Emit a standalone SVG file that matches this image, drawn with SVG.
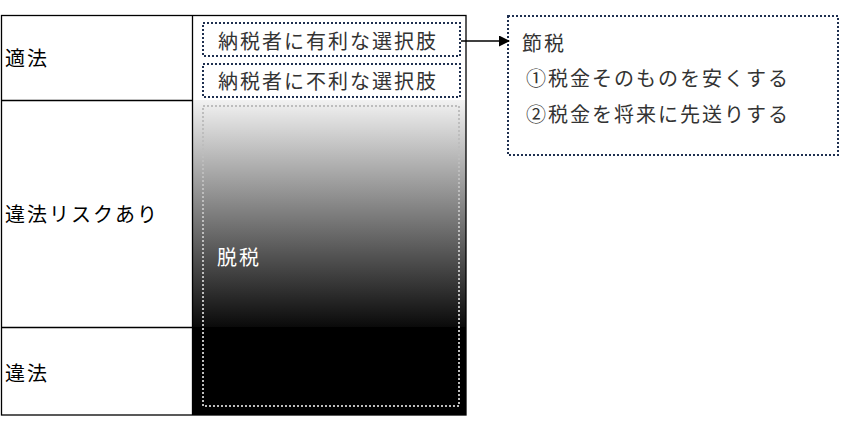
<svg xmlns="http://www.w3.org/2000/svg" width="847" height="424" viewBox="0 0 847 424">
<defs>
<style>
.t{font-family:"Noto Sans CJK JP","Noto Sans",sans-serif;font-size:20px;letter-spacing:2px;dominant-baseline:central}
.cell{fill:none;stroke:#000;stroke-width:1.3}
.dot{fill:none;stroke:#1f3050;stroke-width:2;stroke-dasharray:2 2}
</style>
<linearGradient id="g" x1="0" y1="0" x2="0" y2="1">
<stop offset="0" stop-color="#f2f2f2"/>
<stop offset="1" stop-color="#0a0a0a"/>
</linearGradient>
<marker id="arr" markerWidth="11" markerHeight="11" refX="10" refY="5.5" orient="auto" markerUnits="userSpaceOnUse">
<path d="M0,0 L11,5.5 L0,11 z" fill="#000"/>
</marker>
</defs>
<rect x="0" y="0" width="847" height="424" fill="#fff"/>
<g id="table">
<rect x="192" y="100" width="274" height="227" fill="url(#g)"/>
<rect x="192" y="327" width="274" height="88" fill="#000"/>
<rect class="cell" x="1.5" y="15.5" width="464.5" height="399.5"/>
<line class="cell" x1="192.5" y1="15" x2="192.5" y2="415"/>
<line class="cell" x1="1" y1="100.5" x2="192" y2="100.5"/>
<line class="cell" x1="1" y1="327.5" x2="192" y2="327.5"/>
<text class="t" x="5" y="57" fill="#000">適法</text>
<text class="t" x="5" y="213" fill="#000">違法リスクあり</text>
<text class="t" x="5" y="372" fill="#000">違法</text>
</g>
<g id="node-yuri">
<rect class="dot" x="203" y="23" width="257" height="33"/>
<text class="t" x="218" y="40" fill="#333">納税者に有利な選択肢</text>
</g>
<g id="node-furi">
<rect class="dot" x="203" y="64" width="257" height="33"/>
<text class="t" x="218" y="80" fill="#333">納税者に不利な選択肢</text>
</g>
<g id="node-datsuzei">
<rect x="203" y="106" width="256" height="300" fill="none" stroke="#bdbdbd" stroke-width="2" stroke-dasharray="2 2"/>
<text class="t" x="217" y="256" fill="#fff">脱税</text>
</g>
<g id="node-setsuzei">
<rect class="dot" x="508" y="16" width="330" height="139"/>
<text class="t" x="522" y="42" fill="#333">節税</text>
<text class="t" x="526" y="77" fill="#333">①税金そのものを安くする</text>
<text class="t" x="526" y="113" fill="#333">②税金を将来に先送りする</text>
</g>
<g id="connectors">
<line x1="461" y1="41" x2="509" y2="41" stroke="#000" stroke-width="1.3" marker-end="url(#arr)"/>
</g>
</svg>
